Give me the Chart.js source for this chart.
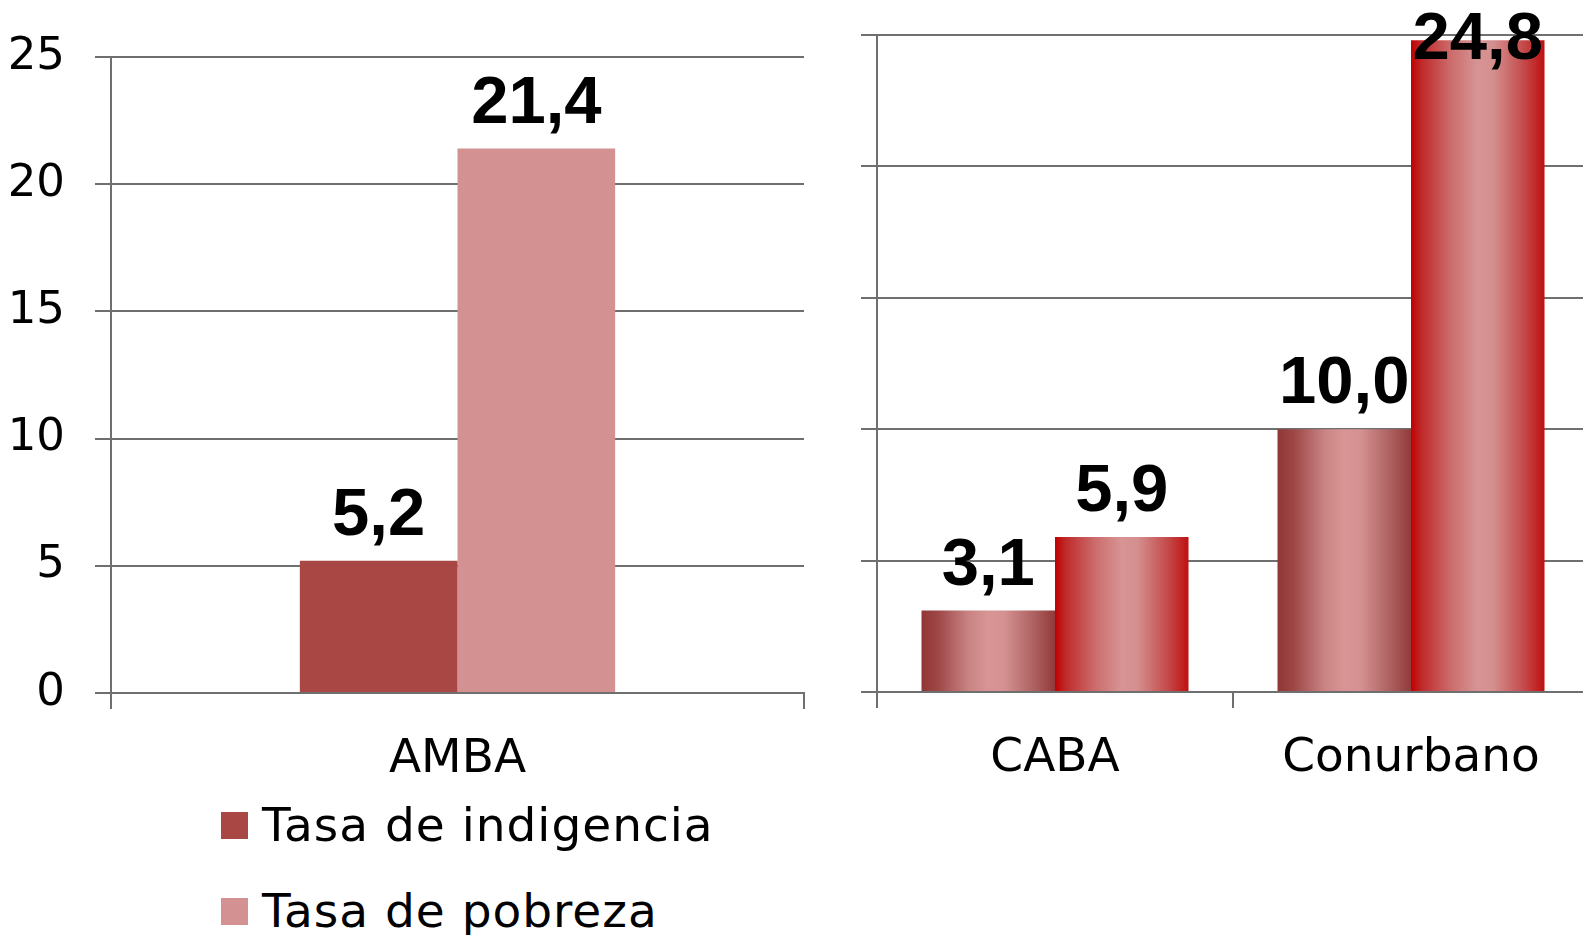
<!DOCTYPE html>
<html>
<head>
<meta charset="utf-8">
<script src="https://cdn.jsdelivr.net/npm/chart.js@4.4.1/dist/chart.umd.min.js"></script>
<style>
  html, body { margin: 0; padding: 0; background: #fff; overflow: hidden; width: 1583px; height: 935px; }
  #left { position: absolute; left: 0; top: 0; }
  #right { position: absolute; left: 840px; top: 0; }
  .leg { position: absolute; left: 221px; height: 48px; white-space: nowrap;
         font: 47px "DejaVu Sans", sans-serif; line-height: 48px; letter-spacing: 1px; color: #000; }
  .leg i { position: absolute; left: 0; top: 11px; width: 27px; height: 27px; }
  .leg span { position: absolute; left: 41px; top: 0; }
</style>
</head>
<body>
<canvas id="left" width="830" height="800"></canvas>
<canvas id="right" width="760" height="800"></canvas>
<div id="legend"></div>
<script>
// Data
const leftCategories = ["AMBA"];
const rightCategories = ["CABA", "Conurbano"];
const seriesNames = ["Tasa de indigencia", "Tasa de pobreza"];
const indigenciaAmba = [5.2];
const pobrezaAmba = [21.4];
const indigenciaRegion = [3.1, 10.0];
const pobrezaRegion = [5.9, 24.8];
const yTicks = [0, 5, 10, 15, 20, 25];

// Styles
const axisGrey = "#6F6F6F";
const textFont = '"DejaVu Sans", sans-serif';
const flatColors = ["#A94744", "#D39191"];
const gradStops = [
  [[0, "#913636"], [0.12, "#9E4646"], [0.35, "#C98383"], [0.5, "#D99595"], [0.62, "#D59191"], [0.85, "#AC5F5F"], [1, "#923A3A"]],
  [[0, "#C00000"], [0.08, "#C02A2A"], [0.3, "#CC6C6C"], [0.5, "#D79494"], [0.62, "#D48E8E"], [0.85, "#C44848"], [1, "#BF1010"]]
];

// Horizontal "cylinder" shading for the right chart bars
function barGradient(ds, catPct) {
  return (c) => {
    const chart = c.chart, x = chart.scales.x;
    if (c.type !== "data" || !x || !chart.chartArea) return flatColors[ds];
    const bw = x.width / chart.data.labels.length * catPct / 2;
    const left = x.getPixelForValue(c.dataIndex) - bw + ds * bw;
    const g = chart.ctx.createLinearGradient(left, 0, left + bw, 0);
    gradStops[ds].forEach(s => g.addColorStop(s[0], s[1]));
    return g;
  };
}

// Value labels above bars (comma decimals)
const valueLabels = {
  id: "valueLabels",
  afterDatasetsDraw(chart) {
    const ctx = chart.ctx;
    ctx.save();
    ctx.font = 'bold 67px "Liberation Sans", Arial, sans-serif';
    ctx.fillStyle = "#000";
    ctx.textAlign = "center";
    ctx.textBaseline = "alphabetic";
    chart.data.datasets.forEach((ds, i) => {
      chart.getDatasetMeta(i).data.forEach((bar, j) => {
        const txt = ds.data[j].toFixed(1).replace(".", ",");
        ctx.fillText(txt, bar.x, Math.max(bar.y - 26, 59));
      });
    });
    ctx.restore();
  }
};

function scales(yWidth, xHeight, showY) {
  return {
    x: {
      grid: { drawOnChartArea: false, drawTicks: true, tickLength: 16, color: axisGrey, lineWidth: 2, offset: true },
      border: { display: true, color: axisGrey, width: 2 },
      ticks: { color: "#000", font: { family: textFont, size: 47 }, padding: 23 },
      afterFit: s => { s.height = xHeight; }
    },
    y: {
      min: 0, max: 25,
      afterBuildTicks: s => { s.ticks = yTicks.map(v => ({ value: v })); },
      ticks: { display: showY, color: "#000", font: { family: textFont, size: 45 }, padding: 30 },
      grid: { color: axisGrey, lineWidth: 2, tickLength: 16, drawTicks: true },
      border: { display: true, color: axisGrey, width: 2 },
      afterFit: s => { s.width = yWidth; }
    }
  };
}

function makeChart(id, labels, d1, d2, catPct, gradient, pad, yWidth, xHeight, showY) {
  return new Chart(document.getElementById(id), {
    type: "bar",
    data: {
      labels: labels,
      datasets: [
        { label: seriesNames[0], data: d1, backgroundColor: gradient ? barGradient(0, catPct) : flatColors[0] },
        { label: seriesNames[1], data: d2, backgroundColor: gradient ? barGradient(1, catPct) : flatColors[1] }
      ]
    },
    options: {
      responsive: false,
      animation: false,
      devicePixelRatio: 1,
      layout: { padding: pad },
      datasets: { bar: { categoryPercentage: catPct, barPercentage: 1, borderWidth: 0 } },
      plugins: { legend: { display: false }, tooltip: { enabled: false } },
      scales: scales(yWidth, xHeight, showY)
    },
    plugins: [valueLabels]
  });
}

makeChart("left", leftCategories, indigenciaAmba, pobrezaAmba, 0.455, false,
  { top: 50, right: 26, left: 0, bottom: 0 }, 111, 107, true);
makeChart("right", rightCategories, indigenciaRegion, pobrezaRegion, 0.75, true,
  { top: 35, right: 11, left: 0, bottom: 0 }, 37, 108, false);

// Legend (vertical list under the left chart)
const legend = document.getElementById("legend");
const legendTops = [801, 887];
seriesNames.forEach((name, i) => {
  const item = document.createElement("div");
  item.className = "leg";
  item.style.top = legendTops[i] + "px";
  item.innerHTML = '<i style="background:' + flatColors[i] + '"></i><span>' + name + "</span>";
  legend.appendChild(item);
});
</script>
</body>
</html>
